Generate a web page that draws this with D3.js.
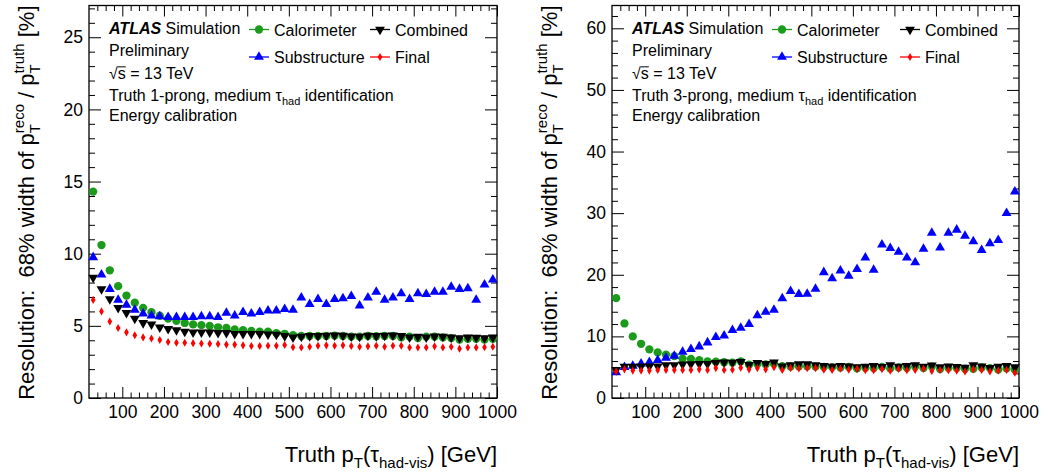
<!DOCTYPE html>
<html>
<head>
<meta charset="utf-8">
<script src="https://cdn.jsdelivr.net/npm/d3@7"></script>
<style>
  body { margin: 0; background: #fff; }
  svg { display: block; font-family: "Liberation Sans", Arial, Helvetica, sans-serif; }
  svg text { white-space: pre; }
</style>
</head>
<body>
<svg id="chart" width="1048" height="476"></svg>
<script>
// Bin centres of truth visible-tau pT [GeV]
const ptBins = [30,50,70,90,110,130,150,170,190,210,230,250,270,290,310,330,350,370,390,410,
  430,450,470,490,510,530,550,570,590,610,630,650,670,690,710,730,750,770,790,810,
  830,850,870,890,910,930,950,970,990];

// Axis tick labels
const xTickLabels = [100,200,300,400,500,600,700,800,900,1000];
const yTicks1p = [0,5,10,15,20,25];
const yTicks3p = [0,10,20,30,40,50,60];

// 1-prong resolution [%]
const calo1p = [14.3,10.6,8.85,7.75,7.1,6.6,6.25,5.95,5.7,5.5, 5.35,5.2,5.1,5.05,5.0,4.9,4.85,4.75,4.7,4.65,
  4.6,4.6,4.5,4.45,4.35,4.3,4.3,4.3,4.3,4.32, 4.3,4.25,4.25,4.3,4.28,4.3,4.3,4.2,4.25,4.15,
  4.25,4.25,4.2,4.15,4.05,4.1,4.1,4.05,4.1];
const subs1p = [9.75,8.55,7.55,6.8,6.45,6.1,5.85,5.7,5.65,5.6, 5.6,5.6,5.6,5.65,5.65,5.6,5.9,5.7,5.95,5.85,
  5.95,6.05,6.05,6.15,6.1,6.95,6.5,6.85,6.5,6.85, 6.9,7.05,6.4,6.95,7.35,6.8,6.95,7.25,6.85,7.25,
  7.2,7.35,7.35,7.7,7.55,7.6,6.8,7.85,8.2];
const comb1p = [8.35,7.55,6.85,6.25,5.9,5.5,5.2,5.1,4.9,4.8, 4.7,4.6,4.55,4.55,4.55,4.52,4.52,4.45,4.45,4.45,
  4.45,4.42,4.4,4.3,4.2,4.25,4.3,4.3,4.32,4.35, 4.32,4.28,4.25,4.32,4.3,4.32,4.35,4.3,4.2,4.25,
  4.2,4.28,4.25,4.2,4.15,4.2,4.18,4.15,4.2];
const final1p = [6.8,6.0,5.3,4.85,4.55,4.35,4.2,4.12,4.02,3.88, 3.83,3.83,3.8,3.78,3.76,3.74,3.7,3.7,3.65,3.6,
  3.6,3.62,3.62,3.68,3.52,3.5,3.55,3.62,3.65,3.62, 3.65,3.6,3.55,3.58,3.62,3.55,3.62,3.62,3.5,3.5,
  3.5,3.58,3.5,3.55,3.42,3.5,3.5,3.52,3.55];

// 3-prong resolution [%]
const calo3p = [16.2,12.1,10.0,8.8,7.9,7.4,7.05,6.8,6.4,6.35, 6.15,5.95,5.9,5.8,5.75,5.95,5.4,5.5,5.45,5.55,
  5.15,5.1,5.15,5.15,5.1,5.05,5.0,4.95,5.05,4.8, 4.9,4.85,5.05,4.8,4.95,4.9,5.1,4.85,5.1,4.7,
  4.9,4.85,4.75,4.75,4.95,4.85,4.6,4.8,4.6];
const subs3p = [4.17,4.99,5.2,5.58,5.8,6.13,6.5,6.83,7.48,7.91, 8.35,9.0,9.86,10.1,11.0,11.38,11.98,13.4,13.98,14.3,
  16.15,17.35,16.86,16.9,17.7,20.4,19.4,20.65,19.8,20.9, 22.76,20.8,24.9,24.3,23.7,22.76,22.0,24.2,26.8,24.4,
  26.8,27.3,26.3,25.4,24.0,25.1,25.6,30.0,33.5];
const comb3p = [4.55,5.1,5.1,5.15,5.15,5.15,5.35,5.35,5.45,5.5, 5.55,5.55,5.7,5.8,5.75,5.85,5.4,5.7,5.55,5.8,
  5.15,5.35,5.5,5.5,5.35,5.2,5.1,5.2,5.15,5.0, 5.1,5.2,5.05,5.35,5.1,5.2,5.35,5.1,5.3,5.0,
  5.15,5.05,4.95,5.35,5.15,4.9,5.1,5.2,5.0];
const final3p = [4.3,4.65,4.45,4.45,4.45,4.55,4.55,4.55,4.55,4.55, 4.65,4.55,4.85,4.55,4.6,4.9,4.65,4.85,4.65,5.0,
  4.55,4.85,4.8,4.85,4.85,4.6,4.55,4.75,4.6,4.75, 4.5,4.5,4.7,4.45,4.7,4.5,4.55,4.75,4.4,4.55,
  4.5,4.45,4.3,4.65,4.55,4.3,4.45,4.55,4.1];

const seriesNames = ["Calorimeter", "Substructure", "Combined", "Final"];

const svg = d3.select("#chart");
const FONT = '"Liberation Sans", Arial, Helvetica, sans-serif';

const styles = {
  Calorimeter:  { color: "#1c9a1c", symbol: d3.symbol().type(d3.symbolCircle).size(54), rot: 0 },
  Substructure: { color: "#0000ff", symbol: d3.symbol().type(d3.symbolTriangle).size(42), rot: 0 },
  Combined:     { color: "#000000", symbol: d3.symbol().type(d3.symbolTriangle).size(42), rot: 180 },
  Final:        { color: "#ff0000", symbol: d3.symbol().type(d3.symbolDiamond).size(19), rot: 0 }
};

// Sequential rich text: segments laid out one after another, measured in the DOM.
function richText(parent, segs, align) {
  const g = parent.append("g");
  let cursor = 0, prevStart = 0;
  segs.forEach(s => {
    const sx = s.stack ? prevStart : cursor;
    const t = g.append("text")
      .attr("xml:space", "preserve")
      .attr("x", sx).attr("y", s.shift || 0)
      .attr("font-size", s.size)
      .attr("font-weight", s.bold ? "bold" : "normal")
      .attr("font-style", s.italic ? "italic" : "normal")
      .attr("fill", "#000")
      .text(s.t);
    const w = t.node().getComputedTextLength();
    if (s.over) {
      g.append("line").attr("x1", sx).attr("x2", sx + w)
        .attr("y1", (s.shift || 0) - s.size * 0.76).attr("y2", (s.shift || 0) - s.size * 0.76)
        .attr("stroke", "#000").attr("stroke-width", 1);
    }
    cursor = s.stack ? Math.max(cursor, sx + w) : sx + w;
    prevStart = sx;
  });
  if (align === "end") g.attr("transform", `translate(${-cursor},0)`);
  return g;
}

function drawPanel(p) {
  const x = d3.scaleLinear().domain([20, 1000]).range([p.left, p.right]);
  const y = d3.scaleLinear().domain([0, p.ymax]).range([p.bottom, p.top]);
  const g = svg.append("g");

  const xMinor = d3.range(40, 1000, 20).filter(v => v % 100 !== 0);
  const yMinor = d3.range(0, p.ymax, p.yMinorStep).filter(v => p.yTicks.indexOf(v) < 0);

  const styleAxis = sel => {
    sel.select(".domain").remove();
    sel.selectAll(".tick line").attr("stroke", "#000").attr("stroke-width", 1);
    sel.selectAll(".tick text").attr("font-family", FONT).attr("font-size", 17.5).attr("fill", "#000");
  };

  // bottom axis with labels
  g.append("g").attr("transform", `translate(0,${p.bottom})`)
    .call(d3.axisBottom(x).tickValues(xTickLabels).tickSize(-11).tickPadding(8).tickFormat(d3.format("d")))
    .call(styleAxis);
  g.append("g").attr("transform", `translate(0,${p.bottom})`)
    .call(d3.axisBottom(x).tickValues(xMinor).tickSize(-5.5).tickFormat(""))
    .call(styleAxis);
  // top mirror ticks
  g.append("g").attr("transform", `translate(0,${p.top})`)
    .call(d3.axisTop(x).tickValues(xTickLabels).tickSize(-11).tickFormat(""))
    .call(styleAxis);
  g.append("g").attr("transform", `translate(0,${p.top})`)
    .call(d3.axisTop(x).tickValues(xMinor).tickSize(-5.5).tickFormat(""))
    .call(styleAxis);
  // left axis with labels
  g.append("g").attr("transform", `translate(${p.left},0)`)
    .call(d3.axisLeft(y).tickValues(p.yTicks).tickSize(-12).tickPadding(6).tickFormat(d3.format("d")))
    .call(styleAxis);
  g.append("g").attr("transform", `translate(${p.left},0)`)
    .call(d3.axisLeft(y).tickValues(yMinor).tickSize(-6).tickFormat(""))
    .call(styleAxis);
  // right mirror ticks
  g.append("g").attr("transform", `translate(${p.right},0)`)
    .call(d3.axisRight(y).tickValues(p.yTicks).tickSize(-12).tickFormat(""))
    .call(styleAxis);
  g.append("g").attr("transform", `translate(${p.right},0)`)
    .call(d3.axisRight(y).tickValues(yMinor).tickSize(-6).tickFormat(""))
    .call(styleAxis);

  // frame
  g.append("rect").attr("x", p.left).attr("y", p.top)
    .attr("width", p.right - p.left).attr("height", p.bottom - p.top)
    .attr("fill", "none").attr("stroke", "#000").attr("stroke-width", 1.3);

  // markers
  seriesNames.forEach(name => {
    const st = styles[name];
    const vals = p.series[name];
    g.append("g").selectAll("path").data(ptBins.map((b, i) => [b, vals[i]]))
      .join("path")
      .attr("d", st.symbol())
      .attr("transform", d => `translate(${x(d[0])},${y(d[1])}) rotate(${st.rot})`)
      .attr("fill", st.color);
  });

  // legend
  const legend = [
    { name: "Calorimeter", dx: p.legX1, row: 0 },
    { name: "Combined", dx: p.legX2, row: 0 },
    { name: "Substructure", dx: p.legX1, row: 1 },
    { name: "Final", dx: p.legX2, row: 1 }
  ];
  legend.forEach(l => {
    const st = styles[l.name];
    const cx = p.left + l.dx, cy = p.legRows[l.row];
    g.append("line").attr("x1", cx - 10).attr("x2", cx + 10).attr("y1", cy).attr("y2", cy)
      .attr("stroke", st.color).attr("stroke-width", 1.3);
    g.append("path").attr("d", st.symbol())
      .attr("transform", `translate(${cx},${cy}) rotate(${st.rot})`).attr("fill", st.color);
    g.append("text").attr("x", cx + 15).attr("y", cy + 6).attr("font-size", 16).attr("fill", "#000").text(l.name);
  });

  // labels block
  const tx = p.left + p.textX;
  const lab = (yy, segs) => richText(g.append("g").attr("transform", `translate(${tx},${yy})`), segs);
  lab(p.lines[0], [{ t: "ATLAS", size: 16, bold: true, italic: true }, { t: " Simulation", size: 16 }]);
  lab(p.lines[1], [{ t: "Preliminary", size: 16 }]);
  lab(p.lines[2], [{ t: "√", size: 16 }, { t: "s", size: 16, over: true }, { t: " = 13 TeV", size: 16 }]);
  lab(p.lines[3], [{ t: p.prong + ", medium τ", size: 16 }, { t: "had", size: 11, shift: 4 }, { t: " identification", size: 16 }]);
  lab(p.lines[4], [{ t: "Energy calibration", size: 16 }]);

  // x title, right aligned with the frame
  richText(g.append("g").attr("transform", `translate(${p.right},462)`), [
    { t: "Truth p", size: 22 }, { t: "T", size: 15, shift: 6 },
    { t: "(τ", size: 22 }, { t: "had-vis", size: 15, shift: 6 },
    { t: ") [GeV]", size: 22 }
  ], "end");

  // y title, rotated, ending at the top of the frame
  richText(g.append("g").attr("transform", `translate(${p.left - 55},${p.top}) rotate(-90)`), [
    { t: "Resolution:  68% width of p", size: 22 },
    { t: "T", size: 15, shift: 6 }, { t: "reco", size: 15, shift: -10, stack: true },
    { t: " / p", size: 22 },
    { t: "T", size: 15, shift: 6 }, { t: "truth", size: 15, shift: -10, stack: true },
    { t: " [%]", size: 22 }
  ], "end");
}

drawPanel({
  left: 89, right: 497, top: 5.5, bottom: 398, ymax: 27.2,
  yTicks: yTicks1p, yMinorStep: 1,
  series: { Calorimeter: calo1p, Substructure: subs1p, Combined: comb1p, Final: final1p },
  prong: "Truth 1-prong",
  textX: 20, lines: [34, 55.5, 79, 100.5, 121],
  legX1: 170, legX2: 291, legRows: [29.5, 57]
});

drawPanel({
  left: 612, right: 1019, top: 5.5, bottom: 398, ymax: 63.7,
  yTicks: yTicks3p, yMinorStep: 2,
  series: { Calorimeter: calo3p, Substructure: subs3p, Combined: comb3p, Final: final3p },
  prong: "Truth 3-prong",
  textX: 20, lines: [34, 55.5, 79, 100.5, 121],
  legX1: 170, legX2: 298, legRows: [29.5, 57]
});
</script>
</body>
</html>
